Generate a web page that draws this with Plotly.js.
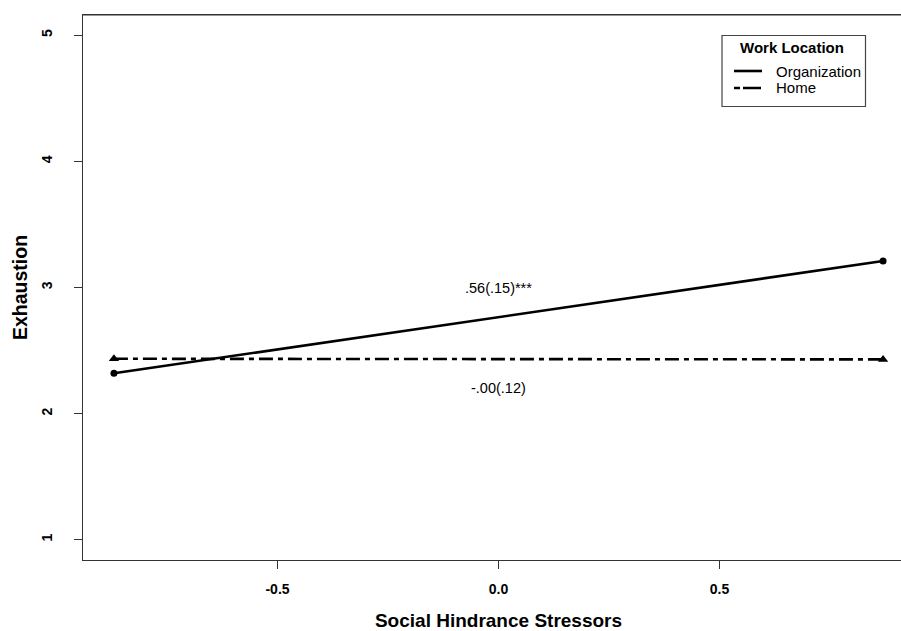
<!DOCTYPE html>
<html>
<head>
<meta charset="utf-8">
<script src="https://cdn.plot.ly/plotly-3.0.1.min.js"></script>
<style>
html,body{margin:0;padding:0;overflow:hidden;background:#fff;width:901px;height:631px;}
#chart{width:914px;height:631px;}
</style>
</head>
<body>
<div id="chart"></div>
<script>
// Data
var stressorLevels = [-0.87, 0.87];
var organizationValues = [2.32, 3.21];
var homeValues = [2.435, 2.43];
var seriesNames = ["Organization", "Home"];
var legendTitle = "Work Location";
var slopeLabels = [".56(.15)***", "-.00(.12)"];
var slopeLabelX = [0.0, 0.0];
var slopeLabelY = [3.0, 2.2];
var yTickVals = [1, 2, 3, 4, 5];
var xTickVals = [-0.5, 0.0, 0.5];
var xTickText = ["-0.5", "0.0", "0.5"];

var FONT = "Liberation Sans, Arial, sans-serif";
var W = 914, H = 631, ML = 83, MT = 15, MB = 71;
var PW = W - ML, PH = H - MT - MB;
function px(xp){ return (xp - ML) / PW; }
function py(yp){ return 1 - (yp - MT) / PH; }

var traces = [
  {x: stressorLevels, y: organizationValues, mode: "lines+markers", name: seriesNames[0],
   line: {color: "#000", width: 2.6}, marker: {symbol: "circle", size: 7, color: "#000"}, hoverinfo: "skip"},
  {x: stressorLevels, y: homeValues, mode: "lines+markers", name: seriesNames[1],
   line: {color: "#000", width: 2.6, dash: "14px,5px,5px,5px"},
   marker: {symbol: "triangle-up", size: 9, color: "#000"}, hoverinfo: "skip"}
];

var annotations = slopeLabels.map(function(t, i){
  return {x: slopeLabelX[i], y: slopeLabelY[i], xref: "x", yref: "y", text: t,
    showarrow: false, xanchor: "center", yanchor: "middle",
    font: {family: FONT, size: 14.5, color: "#000"}};
});

// manual legend (R-style box)
var legendDash = ["solid", "6px,3px,18px,3px"];
var legY = [71, 88];
annotations.push({xref: "paper", yref: "paper", x: px(792), y: py(48), text: "<b>" + legendTitle + "</b>",
  showarrow: false, xanchor: "center", yanchor: "middle", font: {family: FONT, size: 15, color: "#000"}});
var shapes = [
  {type: "line", xref: "paper", yref: "paper", x0: 0, x1: 1, y0: 1, y1: 1, line: {color: "#333", width: 1.2}},
  {type: "rect", xref: "paper", yref: "paper", x0: px(722), x1: px(865.5), y0: py(35.5), y1: py(106.5),
   line: {color: "#444", width: 1.2}, fillcolor: "rgba(0,0,0,0)"}
];
seriesNames.forEach(function(n, i){
  shapes.push({type: "line", xref: "paper", yref: "paper", x0: px(734), x1: px(762), y0: py(legY[i]), y1: py(legY[i]),
    line: {color: "#000", width: 2.6, dash: legendDash[i]}});
  annotations.push({xref: "paper", yref: "paper", x: px(774), y: py(legY[i]), text: n,
    showarrow: false, xanchor: "left", yanchor: "middle", font: {family: FONT, size: 15, color: "#000"}});
});

var layout = {
  width: W, height: H,
  margin: {l: ML, r: 0, t: MT, b: MB, pad: 0},
  paper_bgcolor: "#fff", plot_bgcolor: "#fff",
  font: {family: FONT, color: "#000"},
  showlegend: false,
  xaxis: {
    range: [-0.94, 0.94], showgrid: false, zeroline: false,
    showline: true, mirror: true, linecolor: "#333", linewidth: 1.2,
    tickmode: "array", tickvals: xTickVals, ticktext: xTickText,
    ticks: "outside", ticklen: 8, tickcolor: "#333", tickwidth: 1,
    ticklabelstandoff: 8,
    tickfont: {family: FONT, size: 14, color: "#000", weight: "bold"},
    title: {text: "<b>Social Hindrance Stressors</b>", font: {family: FONT, size: 19, color: "#000"}, standoff: 18},
    fixedrange: true
  },
  yaxis: {
    range: [0.84, 5.16], showgrid: false, zeroline: false,
    showline: true, linecolor: "#333", linewidth: 1.2,
    tickmode: "array", tickvals: yTickVals,
    ticks: "outside", ticklen: 8, tickcolor: "#333", tickwidth: 1,
    tickangle: -90, ticklabelstandoff: 16,
    tickfont: {family: FONT, size: 14, color: "#000", weight: "bold"},
    title: {text: "<b>Exhaustion</b>", font: {family: FONT, size: 19.5, color: "#000"}, standoff: 6},
    fixedrange: true
  },
  shapes: shapes,
  annotations: annotations
};

Plotly.newPlot("chart", traces, layout, {displayModeBar: false, staticPlot: true});
</script>
</body>
</html>
